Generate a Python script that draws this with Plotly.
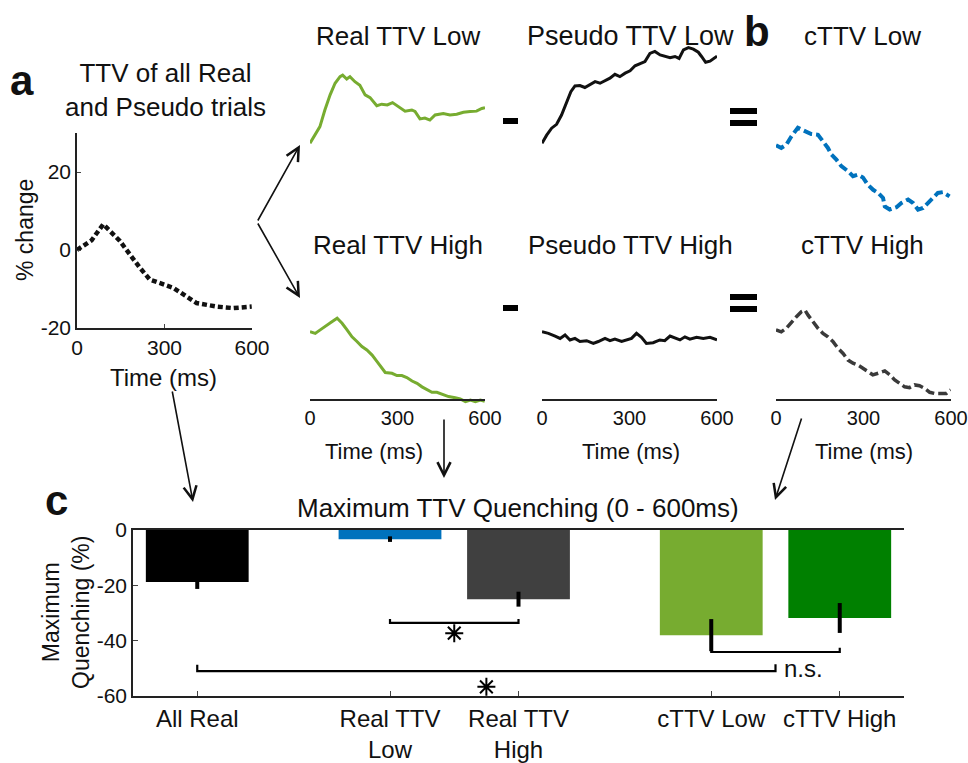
import plotly.graph_objects as go

W, H = 968, 763
def fx(p): return p / W
def fy(p): return 1 - p / H

FONT = "Liberation Sans, Arial, Helvetica, sans-serif"
INK = "#111111"

# ---------------- data ----------------
# panel a: TTV of all real and pseudo trials (% change)
t_all = [0, 50, 90, 147, 216, 250, 330, 410, 479, 536, 599]
ttv_all = [0.0, 2.5, 6.6, 2.3, -4.6, -7.6, -9.7, -13.6, -14.5, -14.9, -14.5]

# panel b, top row (Low)
t_real_low = [0, 17, 34, 51, 69, 86, 103, 112, 126, 137, 154, 171, 189, 206, 229, 246, 265,
              283, 303, 326, 349, 360, 377, 394, 411, 429, 457, 480, 503, 526, 549, 571, 589, 600]
real_low = [-1.5, 0.6, 2.8, 7.1, 11.0, 14.0, 15.7, 16.1, 15.1, 15.7, 14.4, 13.5, 11.0, 10.3, 8.2,
            8.6, 8.4, 9.0, 8.0, 6.8, 7.1, 6.7, 4.8, 5.0, 4.5, 5.8, 6.2, 5.8, 6.0, 6.5, 6.7, 6.8, 7.5, 7.7]

t_pseudo_low = [0, 16, 33, 50, 67, 85, 99, 113, 130, 147, 165, 182, 199, 216, 233, 250, 267, 285,
                302, 319, 336, 353, 370, 387, 405, 422, 439, 456, 470, 485, 502, 519, 536, 547, 561,
                576, 587, 600]
pseudo_low = [-1.5, 0.6, 2.4, 3.4, 5.8, 9.2, 11.8, 13.3, 13.4, 12.9, 13.7, 14.4, 14.0, 14.6, 15.3,
              16.3, 15.7, 16.6, 17.2, 18.5, 19.1, 19.6, 21.7, 22.2, 21.3, 20.9, 20.6, 20.9, 20.4,
              22.6, 23.2, 22.8, 22.0, 20.9, 19.4, 19.7, 20.4, 21.0]

t_cttv_low = [0, 18, 36, 53, 75, 98, 121, 144, 161, 178, 190, 207, 224, 247, 264, 281, 298, 315,
              333, 350, 367, 373, 390, 413, 430, 453, 470, 487, 504, 521, 538, 555, 572, 595]
cttv_low = [-2.0, -2.7, -1.8, 0.3, 2.5, 1.8, 0.9, 0.7, -1.0, -2.7, -4.4, -5.7, -7.4, -8.7, -10.0,
            -9.6, -10.3, -12.2, -13.5, -14.3, -15.6, -17.8, -18.6, -18.0, -16.9, -16.0, -16.9,
            -18.6, -18.2, -16.9, -15.6, -14.3, -14.1, -15.2]

# panel b, bottom row (High)
t_real_high = [0, 18, 35, 58, 75, 93, 110, 127, 144, 161, 178, 195, 213, 230, 247, 258, 281, 298,
               315, 332, 350, 367, 384, 401, 418, 435, 452, 475, 498, 515, 533, 550, 567, 584, 599]
real_high = [-2.4, -2.8, -1.9, -0.8, 0.2, 1.1, -0.2, -1.9, -3.7, -4.9, -6.2, -7.1, -8.4, -10.1,
             -11.8, -12.9, -13.1, -13.7, -13.7, -14.2, -15.1, -15.7, -16.6, -17.4, -18.0, -18.0,
             -18.5, -19.1, -19.4, -19.7, -20.4, -20.0, -20.4, -20.0, -20.3]

t_pseudo_high = [0, 22, 45, 62, 79, 96, 113, 130, 153, 176, 193, 216, 233, 250, 273, 290, 307, 324,
                 341, 358, 381, 404, 421, 439, 456, 473, 490, 507, 530, 553, 576, 600]
pseudo_high = [-2.4, -2.8, -3.5, -4.1, -3.2, -4.5, -4.1, -4.9, -4.7, -5.4, -4.9, -4.1, -4.7, -4.3,
               -4.9, -4.5, -4.1, -2.8, -3.8, -5.4, -5.2, -4.5, -4.7, -3.5, -4.1, -4.5, -3.7, -4.3,
               -3.8, -4.1, -3.8, -4.5]

t_cttv_high = [0, 18, 35, 53, 70, 87, 99, 110, 127, 144, 161, 178, 195, 213, 230, 247, 264, 281,
               298, 315, 332, 350, 373, 390, 407, 424, 441, 458, 475, 492, 510, 527, 544, 567, 584, 599]
cttv_high = [-1.9, -2.4, -1.5, 0.2, 1.5, 2.8, 3.2, 1.9, 0.2, -1.5, -2.8, -3.7, -4.9, -6.7, -8.0,
             -9.7, -10.5, -11.0, -11.8, -12.7, -13.5, -13.1, -12.5, -13.5, -14.8, -15.7, -16.6,
             -16.8, -16.1, -16.3, -17.0, -18.0, -18.3, -18.3, -18.3, -17.4]

# panel c: maximum TTV quenching (%)
bar_labels = ["All Real", "Real TTV<br>Low", "Real TTV<br>High", "cTTV Low", "cTTV High"]
bar_pos = [1, 2.5, 3.5, 5, 6]
bar_vals = [-18.8, -3.3, -25.0, -38.0, -31.8]
bar_errs = [2.5, 1.0, 2.7, 5.8, 5.4]
bar_colors = ["#000000", "#0072BD", "#404040", "#77AC30", "#008000"]

# significance brackets (x, y in bar-axis units)
br1_x = [2.5, 2.5, 3.5, 3.5]
br1_y = [-32.2, -33.6, -33.6, -32.2]
br2_x = [1, 1, 5.5, 5.5]
br2_y = [-48.7, -51.0, -51.0, -48.5]
br3_x = [5, 5, 6, 6]
br3_y = [-43.6, -44.1, -44.1, -42.6]
star_x = [3.0, 3.25]
star_y = [-37.3, -56.7]

GREEN = "#77AC30"

fig = go.Figure()

# panel a
fig.add_trace(go.Scatter(x=t_all, y=ttv_all, mode="lines", xaxis="x", yaxis="y",
                         line=dict(color="#111111", width=4.5, dash="5px,3px")))
# b top
fig.add_trace(go.Scatter(x=t_real_low, y=real_low, mode="lines", xaxis="x2", yaxis="y2",
                         line=dict(color=GREEN, width=3)))
fig.add_trace(go.Scatter(x=t_pseudo_low, y=pseudo_low, mode="lines", xaxis="x3", yaxis="y3",
                         line=dict(color="#111111", width=3)))
fig.add_trace(go.Scatter(x=t_cttv_low, y=cttv_low, mode="lines", xaxis="x4", yaxis="y4",
                         line=dict(color="#0072BD", width=4, dash="9px,4px")))
# b bottom
fig.add_trace(go.Scatter(x=t_real_high, y=real_high, mode="lines", xaxis="x5", yaxis="y5",
                         line=dict(color=GREEN, width=3)))
fig.add_trace(go.Scatter(x=t_pseudo_high, y=pseudo_high, mode="lines", xaxis="x6", yaxis="y6",
                         line=dict(color="#111111", width=3)))
fig.add_trace(go.Scatter(x=t_cttv_high, y=cttv_high, mode="lines", xaxis="x7", yaxis="y7",
                         line=dict(color="#3a3a3a", width=3.5, dash="9px,4px")))
# c bars
fig.add_trace(go.Bar(x=bar_pos, y=bar_vals, width=0.8, xaxis="x8", yaxis="y8",
                     marker=dict(color=bar_colors, line=dict(width=0)),
                     error_y=dict(type="data", array=bar_errs, color="#000000", thickness=4, width=0)))
for bx, by in [(br1_x, br1_y), (br2_x, br2_y), (br3_x, br3_y)]:
    fig.add_trace(go.Scatter(x=bx, y=by, mode="lines", xaxis="x8", yaxis="y8",
                             line=dict(color="#000000", width=2.2)))
fig.add_trace(go.Scatter(x=star_x, y=star_y, mode="markers", xaxis="x8", yaxis="y8",
                         marker=dict(symbol="asterisk-open", size=15, color="#000000",
                                     line=dict(color="#000000", width=2))))

axline = dict(showline=True, linecolor="#222222", linewidth=1.5, showgrid=False, zeroline=False)
layout = dict(
    width=W, height=H, margin=dict(l=0, r=0, t=0, b=0, autoexpand=False),
    paper_bgcolor="white", plot_bgcolor="white", showlegend=False,
    font=dict(family=FONT, color=INK),
)
# panel a axes
layout["xaxis"] = dict(domain=[fx(77), fx(252)], range=[0, 600], anchor="y", ticks="inside", ticklen=4,
                       tickvals=[0, 300, 600], ticktext=["0", "300", "600"], tickfont=dict(size=21),
                       **axline)
layout["yaxis"] = dict(domain=[fy(328), fy(133)], range=[-20, 30], anchor="x", ticks="inside", ticklen=4,
                       tickvals=[-20, 0, 20], ticktext=["-20", "0", "20"], tickfont=dict(size=21),
                       **axline)
cols = [(310, 485), (542, 717), (776, 951)]
for i, (x0, x1) in enumerate(cols):
    k = i + 2
    layout[f"xaxis{k}"] = dict(domain=[fx(x0), fx(x1)], range=[0, 600], anchor=f"y{k}", visible=False)
    layout[f"yaxis{k}"] = dict(domain=[fy(215), fy(40.6)], range=[-20, 25], anchor=f"x{k}", visible=False)
    k2 = i + 5
    layout[f"xaxis{k2}"] = dict(domain=[fx(x0), fx(x1)], range=[0, 600], anchor="free",
                                position=fy(400), ticks="", tickvals=[0, 300, 600],
                                ticktext=["0", "300", "600"], tickfont=dict(size=20), **axline)
    layout[f"yaxis{k2}"] = dict(domain=[fy(403.9), fy(299.25)], range=[-21, 6], anchor=f"x{k2}",
                                visible=False)
# panel c axes
layout["xaxis8"] = dict(domain=[fx(133), fx(904)], range=[0.5, 6.5], anchor="y8", ticks="inside",
                        ticklen=5, tickvals=bar_pos, ticktext=bar_labels, tickfont=dict(size=24),
                        mirror=True, **axline)
layout["yaxis8"] = dict(domain=[fy(696), fy(530)], range=[-60, 0], anchor="x8", ticks="inside",
                        ticklen=5, tickvals=[-60, -40, -20, 0], ticktext=["-60", "-40", "-20", "0"],
                        tickfont=dict(size=21), **axline)
fig.update_layout(**layout)

ann = []
def txt(x, y, s, size, bold=False, angle=0, xanchor="center", yanchor="middle"):
    ann.append(dict(x=fx(x), y=fy(y), xref="paper", yref="paper", text=f"<b>{s}</b>" if bold else s,
                    showarrow=False, font=dict(size=size, family=FONT, color=INK), textangle=angle,
                    xanchor=xanchor, yanchor=yanchor))

txt(22, 80, "a", 42, bold=True)
txt(757, 32, "b", 42, bold=True)
txt(56, 500, "c", 42, bold=True)
txt(165, 90, "TTV of all Real<br>and Pseudo trials", 26)
txt(25, 230, "% change", 23, angle=-90)
txt(163, 377, "Time (ms)", 24)
txt(398, 36, "Real TTV Low", 26)
txt(630, 36, "Pseudo TTV Low", 27)
txt(862, 36, "cTTV Low", 26)
txt(398, 245, "Real TTV High", 26)
txt(630, 245, "Pseudo TTV High", 26)
txt(862, 245, "cTTV High", 26)
for cx in [374, 631, 864]:
    txt(cx, 451, "Time (ms)", 22)
txt(518, 508, "Maximum TTV Quenching (0 - 600ms)", 26)
txt(66, 613, "Maximum<br>Quenching (%)", 23, angle=-90)

ann.append(dict(x=5.55, y=-50.2, xref="x8", yref="y8", text="n.s.", showarrow=False,
                font=dict(size=24, family=FONT, color=INK), xanchor="left", yanchor="middle"))

def arrow(tail, tip):
    ann.append(dict(x=fx(tip[0]), y=fy(tip[1]), xref="paper", yref="paper", text="",
                    showarrow=True, ax=tail[0] - tip[0], ay=tail[1] - tip[1], axref="pixel", ayref="pixel",
                    arrowhead=5, arrowsize=1.6, arrowwidth=1.6, arrowcolor="#111"))

arrow((257, 222), (300, 145))
arrow((257, 222), (300, 298))
arrow((172, 390), (193, 502))
arrow((444, 418), (444, 478))
arrow((802, 417), (775, 500))
fig.update_layout(annotations=ann)

shapes = []
def bar_rect(x0, x1, y0, y1):
    shapes.append(dict(type="rect", xref="paper", yref="paper", x0=fx(x0), x1=fx(x1), y0=fy(y0), y1=fy(y1),
                       fillcolor="#000", line=dict(width=0)))
bar_rect(503, 518, 118, 124)
bar_rect(503, 518, 305, 311)
bar_rect(730, 757, 108, 114)
bar_rect(730, 757, 120, 126)
bar_rect(730, 757, 294, 300)
bar_rect(730, 757, 306, 312)
fig.update_layout(shapes=shapes)

fig.write_html("out.html", config={"displayModeBar": False},
               post_script="document.body.style.margin='0px';")
